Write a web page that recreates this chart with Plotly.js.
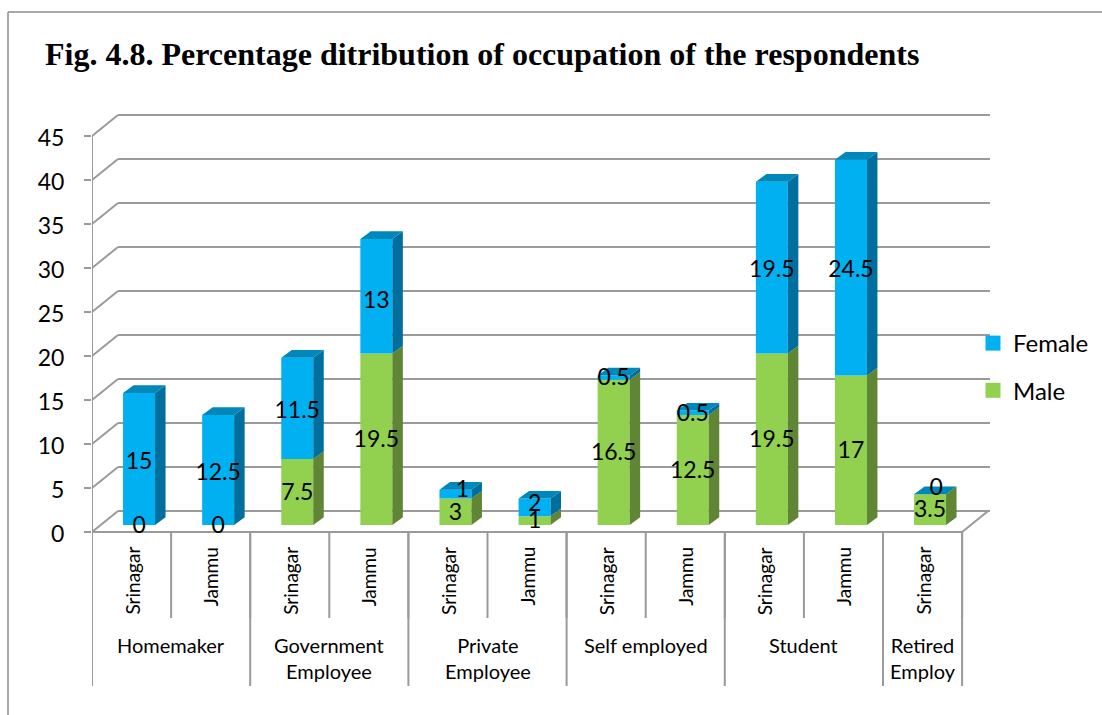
<!DOCTYPE html>
<html><head><meta charset="utf-8">
<script src="https://cdn.plot.ly/plotly-3.0.1.min.js"></script>
<style>html,body{margin:0;padding:0;background:#fff}#chart{width:1102px;height:715px}</style>
</head><body><div id="chart"></div>
<script>
const title = "Fig. 4.8. Percentage ditribution of occupation of the respondents";
const sites = ["Srinagar","Jammu","Srinagar","Jammu","Srinagar","Jammu","Srinagar","Jammu","Srinagar","Jammu","Srinagar"];
const groups = ["Homemaker","Government<br>Employee","Private<br>Employee","Self employed","Student","Retired<br>Employ"];
const groupSizes = [2,2,2,2,2,1];
const male = [0,0,7.5,19.5,3,1,16.5,12.5,19.5,17,3.5];
const female = [15,12.5,11.5,13,1,2,0.5,0.5,19.5,24.5,0];
const yTicks = [0,5,10,15,20,25,30,35,40,45];

// pixel frame of the plot area
const W=1102,H=715, L=92,R=990,T=100,B=700, catW=79.1, unit=8.8, zeroPx=532;
const xMin=-0.5, xMax=xMin+(R-L)/catW;
const yMin=(zeroPx-B)/unit, yMax=(zeroPx-T)/unit;
const px2y=p=>(zeroPx-p)/unit;
const FONT="Lato, Carlito, sans-serif", GRID="#9a9a9a", N=sites.length;
const wallDX=26/catW, wallDY=21/unit, floorEnd=xMin+N;
const barW=32/catW, barShift=7.5/catW, barBase=7/unit, depthX=10.5/catW, depthY=7.7/unit;
const idx=sites.map((_,i)=>i), centers=idx.map(i=>i+barShift);
const maleTop=male.map(v=>v+barBase), femaleTop=male.map((v,i)=>v+female[i]+barBase);

function line(x0,y0,x1,y1,w){return {type:'line',layer:'below',xref:'x',yref:'y',x0,y0,x1,y1,line:{color:GRID,width:w||2}};}
const shapes=[];
yTicks.forEach(t=>{
  shapes.push(line(xMin,t,xMin+wallDX,t+wallDY));
  shapes.push(line(xMin+wallDX,t+wallDY,xMax,t+wallDY));
});
shapes.push(line(xMin,0,xMin,45));
shapes.push(line(xMin,0,floorEnd,0));
shapes.push(line(floorEnd,0,floorEnd+wallDX,wallDY));
for(let i=0;i<=N;i++) shapes.push(line(xMin+i,0,xMin+i,px2y(618)));
let at=0; const groupEdges=[0], groupMid=[];
groupSizes.forEach(s=>{groupMid.push(xMin+at+s/2); at+=s; groupEdges.push(at);});
groupEdges.forEach(e=>shapes.push(line(xMin+e,0,xMin+e,px2y(686))));
// outer frame
const fx=p=>(p-L)/(R-L), fy=p=>(B-p)/(B-T);
shapes.push({type:'line',xref:'paper',yref:'paper',layer:'below',x0:fx(8),x1:fx(W),y0:fy(12),y1:fy(12),line:{color:'#8c8c8c',width:1.5}});
shapes.push({type:'line',xref:'paper',yref:'paper',layer:'below',x0:fx(8),x1:fx(8),y0:fy(12),y1:fy(H),line:{color:'#8c8c8c',width:1.5}});

function sidePoly(bottom,top){
  const xs=[],ys=[];
  idx.forEach(i=>{const r=centers[i]+barW/2;
    xs.push(r,r+depthX,r+depthX,r,r,null);
    ys.push(bottom[i],bottom[i]+depthY,top[i]+depthY,top[i],bottom[i],null);});
  return {x:xs,y:ys};
}
function topPoly(){
  const xs=[],ys=[];
  idx.forEach(i=>{const l=centers[i]-barW/2,r=l+barW,t=femaleTop[i];
    xs.push(l,r,r+depthX,l+depthX,l,null);
    ys.push(t,t,t+depthY,t+depthY,t,null);});
  return {x:xs,y:ys};
}
const baseArr=idx.map(()=>barBase);
const poly=(p,c)=>({type:'scatter',mode:'lines',x:p.x,y:p.y,fill:'toself',fillcolor:c,line:{width:0,color:c},hoverinfo:'skip',showlegend:false});
const legendDummy=(name,c)=>({type:'scatter',mode:'markers',name,x:[null],y:[null],legendgroup:name,marker:{symbol:'square',size:15,color:c}});

// hand nudges of crowded labels, in pixels: site index -> [dx, dy]
const femaleNudge={3:[0,2],4:[7,-7],5:[0,-6],6:[0,-2],7:[0,-2],10:[6,-9]};
const labelX=[],labelY=[],labelT=[];
idx.forEach(i=>{
  labelX.push(centers[i]);labelY.push(barBase+male[i]/2-2/unit);labelT.push(String(male[i]));
  const n=femaleNudge[i]||[0,0];
  labelX.push(centers[i]+n[0]/catW);
  labelY.push(barBase+male[i]+female[i]/2-(4+n[1])/unit);labelT.push(String(female[i]));
});

const traces=[
 {type:'bar',x:centers,y:male,base:baseArr,width:barW,marker:{color:'#92D050',line:{width:0}},showlegend:false,name:'Male'},
 {type:'bar',x:centers,y:female,base:maleTop,width:barW,marker:{color:'#00B0F0',line:{width:0}},showlegend:false,name:'Female'},
 poly(sidePoly(baseArr,maleTop),'#5F8535'),
 poly(sidePoly(maleTop,femaleTop),'#006F9E'),
 poly(topPoly(),'#0088BA'),
 {type:'scatter',mode:'text',x:labelX,y:labelY,text:labelT,textposition:'middle center',textfont:{family:FONT,size:23,color:'#000'},hoverinfo:'skip',showlegend:false,cliponaxis:false},
 legendDummy('Female','#00B0F0'),
 legendDummy('Male','#92D050')
];

const annotations=[];
idx.forEach(i=>annotations.push({x:i,y:px2y(545),xref:'x',yref:'y',text:sites[i],textangle:-90,yanchor:'top',xanchor:'center',showarrow:false,font:{family:FONT,size:19,color:'#000'}}));
groups.forEach((g,i)=>annotations.push({x:groupMid[i],y:px2y(631),xref:'x',yref:'y',text:g,yanchor:'top',xanchor:'center',align:'center',showarrow:false,font:{family:FONT,size:20,color:'#000'}}));

const layout={
 width:W,height:H,paper_bgcolor:'#fff',plot_bgcolor:'rgba(0,0,0,0)',showlegend:true,barmode:'overlay',
 margin:{l:L,r:W-R,t:T,b:H-B,pad:0,autoexpand:false},
 title:{text:title,x:45/W,xanchor:'left',xref:'container',y:1-54/H,yref:'container',yanchor:'middle',font:{family:'"Liberation Serif", serif',size:32,color:'#000',weight:700}},
 xaxis:{range:[xMin,xMax],visible:false,fixedrange:true},
 yaxis:{range:[yMin,yMax],tickmode:'array',tickvals:yTicks,ticktext:yTicks.map(String),showgrid:false,zeroline:false,showline:false,ticks:'outside',ticklen:7,tickwidth:2,tickcolor:GRID,tickfont:{family:FONT,size:23,color:'#000'},ticklabelstandoff:15,ticklabelshift:2,fixedrange:true},
 legend:{x:fx(973),xanchor:'left',y:fy(321),yanchor:'top',font:{family:FONT,size:24,color:'#000'},bgcolor:'rgba(0,0,0,0)',tracegroupgap:13,itemwidth:30,traceorder:'grouped'},
 shapes,annotations
};
Plotly.newPlot('chart',traces,layout,{displayModeBar:false,staticPlot:true});
</script></body></html>
